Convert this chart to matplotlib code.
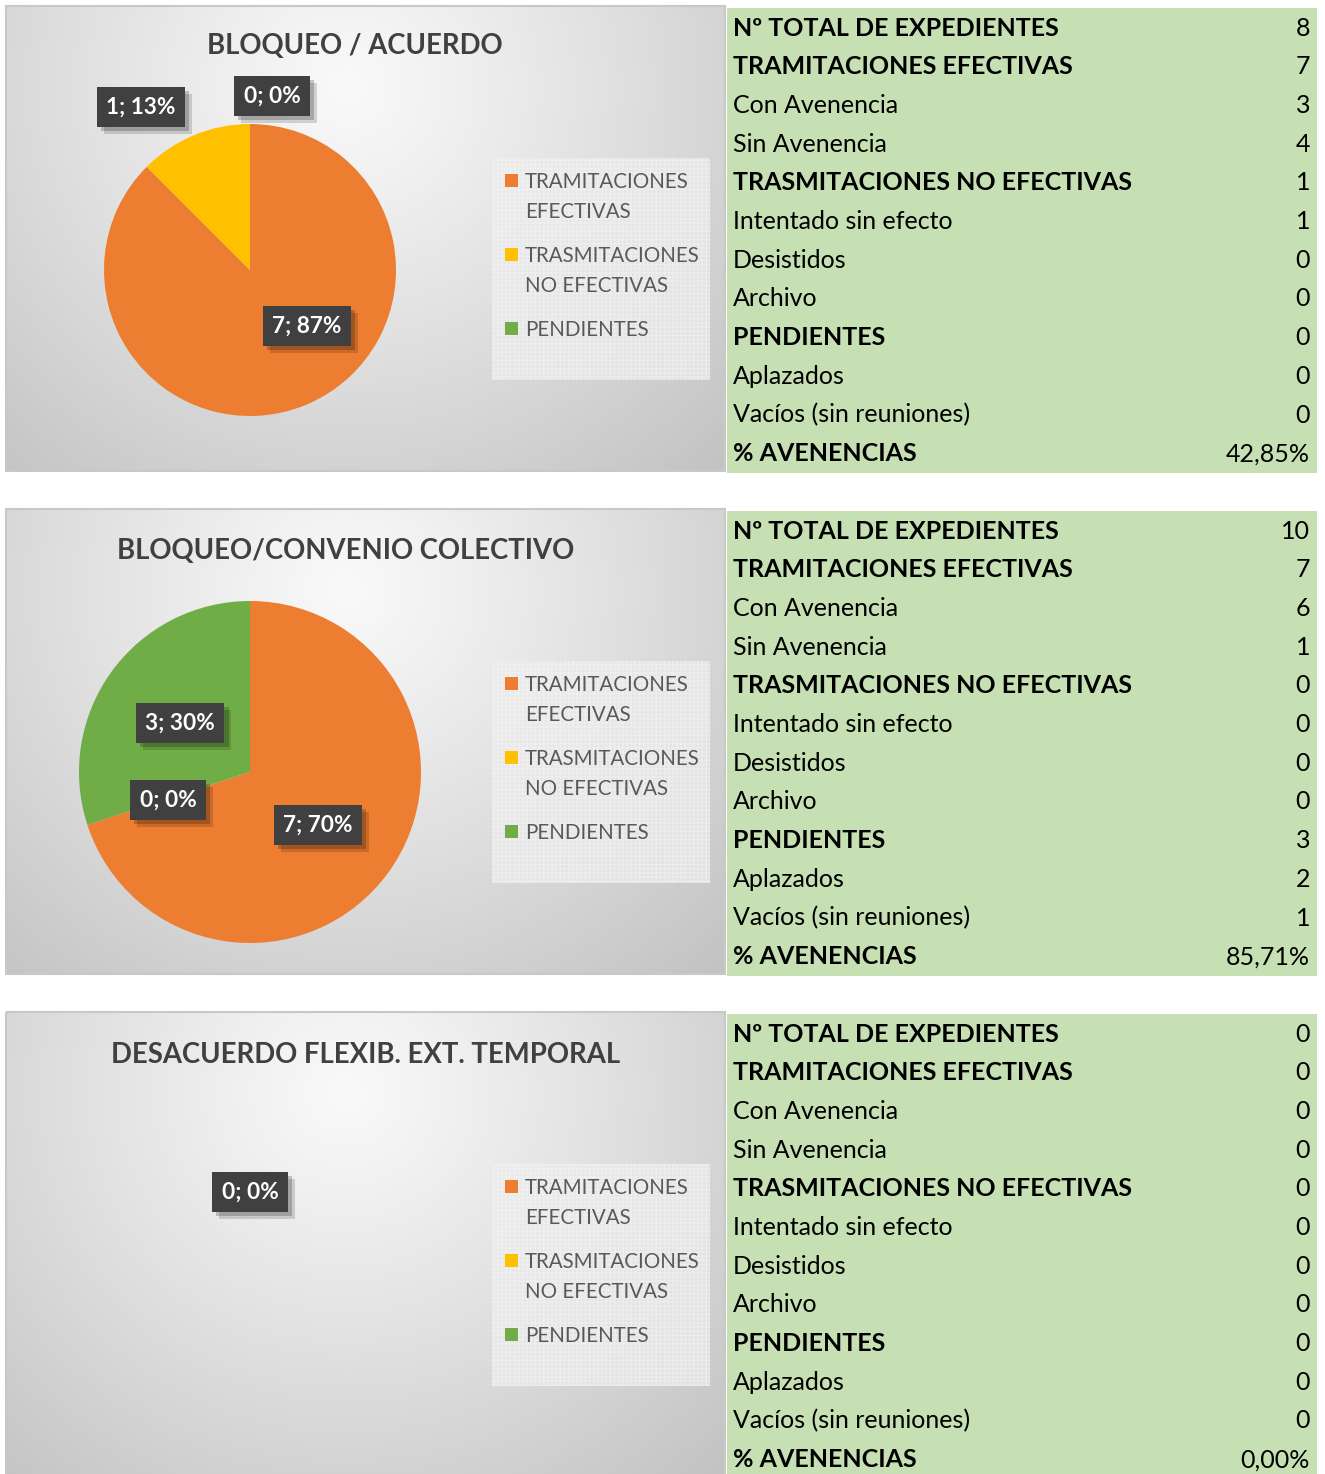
import numpy as np
import matplotlib
matplotlib.use("Agg")
import matplotlib.pyplot as plt
import matplotlib.patheffects as pe
from matplotlib.patches import Rectangle

plt.rcParams['font.family'] = ['Lato', 'DejaVu Sans']

# ---------------- data ----------------
titles = ["BLOQUEO / ACUERDO", "BLOQUEO/CONVENIO COLECTIVO", "DESACUERDO FLEXIB. EXT. TEMPORAL"]
categories = ["TRAMITACIONES\nEFECTIVAS", "TRASMITACIONES\nNO EFECTIVAS", "PENDIENTES"]
pie_values = [[7, 1, 0], [7, 0, 3], [0, 0, 0]]
pie_pcts = [[87, 13, 0], [70, 0, 30], [0, 0, 0]]

row_labels = ["Nº TOTAL DE EXPEDIENTES", "TRAMITACIONES EFECTIVAS", "Con Avenencia",
              "Sin Avenencia", "TRASMITACIONES NO EFECTIVAS", "Intentado sin efecto",
              "Desistidos", "Archivo", "PENDIENTES", "Aplazados",
              "Vacíos (sin reuniones)", "% AVENENCIAS"]
bold_rows = [0, 1, 4, 8, 11]
table_values_1 = ["8", "7", "3", "4", "1", "1", "0", "0", "0", "0", "0", "42,85%"]
table_values_2 = ["10", "7", "6", "1", "0", "0", "0", "0", "3", "2", "1", "85,71%"]
table_values_3 = ["0", "0", "0", "0", "0", "0", "0", "0", "0", "0", "0", "0,00%"]
table_values = [table_values_1, table_values_2, table_values_3]

# ---------------- layout / style ----------------
W, H = 1325, 1474
colors = ["#ED7D31", "#FFC000", "#70AD47"]
panel_tops = [6, 509, 1012]
panel_h = 465
pie_geom = [(250, 270, 146), (250, 772, 171), None]
# label positions (pixel) for each pie, per category (None = hidden)
label_pos = [
    [(307, 326), (141, 107), (272, 96)],
    [(318, 825), (168, 800), (180, 723)],
    [None, None, (250, 1192)],
]
title_pos = [(355, 46), (346, 551), (366, 1055)]

fig = plt.figure(figsize=(W / 100, H / 100), dpi=100)
fig.patch.set_facecolor("white")
bg = fig.add_axes([0, 0, 1, 1])
bg.set_xlim(0, W)
bg.set_ylim(H, 0)
bg.axis("off")
bg.set_zorder(0)

top_ax = fig.add_axes([0, 0, 1, 1])
top_ax.set_xlim(0, W)
top_ax.set_ylim(H, 0)
top_ax.axis("off")
top_ax.set_zorder(5)
top_ax.patch.set_alpha(0)


def fig_rect(x0, y0, w, h):
    return [x0 / W, 1 - (y0 + h) / H, w / W, h / H]


# gradient image
gx0, gx1 = 6, 725
gw = gx1 - gx0
yy, xx = np.mgrid[0:panel_h, 0:gw]
cx, cy = 340, 80
d = np.sqrt(((xx - cx) / 540.0) ** 2 + ((yy - cy) / 520.0) ** 2)
d = np.clip(d, 0, 1)
light, dark = 0.978, 0.765
val = light - (light - dark) * d ** 1.1
grad = np.dstack([val, val, val])

for p in range(3):
    top = panel_tops[p]
    # chart panel
    bg.imshow(grad, extent=(gx0, gx1, top + panel_h, top), origin="upper",
              aspect="auto", zorder=0, interpolation="bilinear")
    bg.add_patch(Rectangle((gx0, top), gw, panel_h, fill=False,
                           edgecolor="#c8c8c8", lw=1.5, zorder=1))
    # table
    bg.add_patch(Rectangle((727, top + 2), 590, panel_h, facecolor="#C6E0B4",
                           edgecolor="none", zorder=1))
    for i, lab in enumerate(row_labels):
        y = top + 22 + i * 38.7
        wt = "bold" if i in bold_rows else "normal"
        bg.text(733, y, lab, fontsize=18, fontweight=wt, color="black",
                va="center", ha="left", zorder=3)
        bg.text(1310, y, table_values[p][i], fontsize=18, color="black",
                va="center", ha="right", zorder=3)

    # title
    tx, ty = title_pos[p]
    bg.text(tx, ty, titles[p], fontsize=19.8, fontweight="bold", color="#404040",
            ha="center", va="center", zorder=3)

    # legend box
    ly = top + 152
    bg.add_patch(Rectangle((492, ly), 218, 222, facecolor="#ebebeb",
                           edgecolor="none", alpha=0.7, zorder=1))
    bg.add_patch(Rectangle((492, ly), 218, 222, facecolor="none",
                           edgecolor="#f6f6f6", hatch="++++", lw=0, alpha=0.5, zorder=1))
    offs = [0, 74, 148]
    for k, cat in enumerate(categories):
        yk = ly + 23 + offs[k]
        bg.add_patch(Rectangle((505, yk - 7), 13, 13, facecolor=colors[k],
                               edgecolor="none", zorder=3))
        bg.text(525, yk - 9, cat, fontsize=14.8, color="#595959", ha="left",
                va="top", linespacing=1.62, zorder=3)

    # pie
    vals = pie_values[p]
    if pie_geom[p] is not None and sum(vals) > 0:
        pcx, pcy, r = pie_geom[p]
        nz = [k for k in range(3) if vals[k] > 0]
        pax = fig.add_axes(fig_rect(pcx - r, pcy - r, 2 * r, 2 * r))
        pax.set_zorder(2)
        pax.pie([vals[k] for k in nz], colors=[colors[k] for k in nz], startangle=90,
                counterclock=False, radius=1, wedgeprops=dict(linewidth=0))
        pax.set_xlim(-1, 1)
        pax.set_ylim(-1, 1)
        pax.set_aspect("auto")
        pax.axis("off")

    # data labels
    for k in range(3):
        pos = label_pos[p][k]
        if pos is None:
            continue
        txt = f"{vals[k]}; {pie_pcts[p][k]}%"
        lx, lyy = pos
        t = top_ax.text(lx, lyy, txt, fontsize=16.3, fontweight="bold", color="white",
                        ha="center", va="center", zorder=10,
                        bbox=dict(boxstyle="square,pad=0.42", facecolor="#404040",
                                  edgecolor="none"))
        t.get_bbox_patch().set_path_effects([
            pe.SimplePatchShadow(offset=(5, -5), shadow_rgbFace="black", alpha=0.15),
            pe.SimplePatchShadow(offset=(3, -3), shadow_rgbFace="black", alpha=0.2),
            pe.Normal()])

fig.savefig("out.png", dpi=100, facecolor="white")
